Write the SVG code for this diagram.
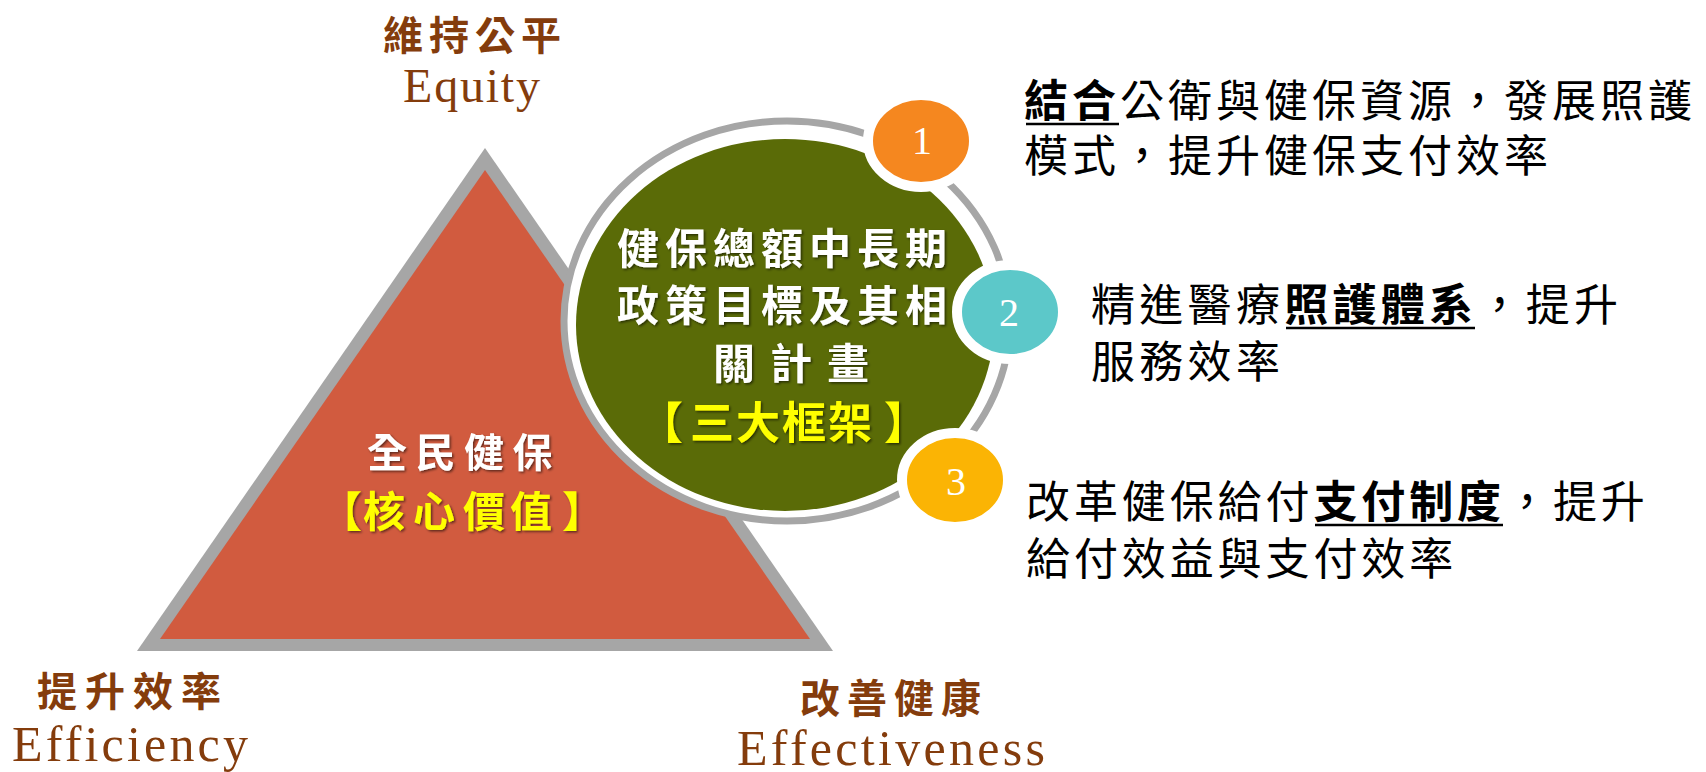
<svg xmlns="http://www.w3.org/2000/svg" width="1706" height="772" viewBox="0 0 1706 772">
<defs>
<style>
.cjk{font-family:"Noto Sans CJK TC","Noto Sans CJK SC",sans-serif;}
.lbl{fill:#843C0C;font-size:40px;font-weight:bold;}
.lat{font-family:"Liberation Serif",serif;fill:#843C0C;}
.wt{fill:#FFFFFF;font-weight:bold;}
.yl{fill:#FFFF00;font-weight:bold;}
.num{font-family:"Liberation Serif",serif;fill:#FFFFFF;font-size:40px;text-anchor:middle;}
.desc{fill:#000000;font-size:44px;}
.b{font-weight:bold;}
.ul{stroke:#000000;stroke-width:2.5;}
.small{stroke:#FFFFFF;stroke-width:10;}
</style>
<filter id="sh" x="-10%" y="-10%" width="120%" height="130%">
<feDropShadow dx="1.5" dy="1.5" stdDeviation="1" flood-color="#000000" flood-opacity="0.55"/>
</filter>
</defs>
<rect width="1706" height="772" fill="#FFFFFF"/>

<g id="triangle">
<polygon points="485,148 137,651 833,651" fill="#A6A6A6"/>
<polygon points="485,170 160,639 810,639" fill="#D15B3F"/>
<g filter="url(#sh)">
<text class="cjk wt" x="367" y="467" font-size="40" letter-spacing="8.5">全民健保</text>
<text class="cjk yl" x="320 363 413 463 510 562" y="527" font-size="42">【核心價值】</text>
</g>
</g>

<g id="framework">
<ellipse cx="787" cy="321" rx="223" ry="200" fill="#FFFFFF" stroke="#A6A6A6" stroke-width="7"/>
<ellipse cx="785" cy="325" rx="209" ry="186" fill="#5A6B07"/>
<g filter="url(#sh)">
<text class="cjk wt" x="617" y="264" font-size="42" letter-spacing="6">健保總額中長期</text>
<text class="cjk wt" x="617" y="321" font-size="42" letter-spacing="6">政策目標及其相</text>
<text class="cjk wt" x="713" y="379" font-size="42" letter-spacing="15">關計畫</text>
<text class="cjk yl" x="639 690 736 782 828 884" y="439" font-size="44">【三大框架】</text>
</g>
</g>

<g id="node1">
<ellipse class="small" cx="921" cy="141" rx="53" ry="46" fill="#F5871F"/>
<text class="num" x="922" y="154">1</text>
</g>
<g id="node2">
<ellipse class="small" cx="1010" cy="312" rx="53" ry="47" fill="#5CC8C9"/>
<text class="num" x="1009" y="326">2</text>
</g>
<g id="node3">
<ellipse class="small" cx="955" cy="480" rx="53" ry="47" fill="#FBB404"/>
<text class="num" x="956" y="495">3</text>
</g>

<g id="equity">
<text class="cjk lbl" x="383" y="50" letter-spacing="6">維持公平</text>
<text class="lat" x="403" y="102" font-size="48" textLength="137" lengthAdjust="spacing">Equity</text>
</g>
<g id="efficiency">
<text class="cjk lbl" x="37" y="706" letter-spacing="8">提升效率</text>
<text class="lat" x="12" y="761" font-size="50" textLength="236" lengthAdjust="spacing">Efficiency</text>
</g>
<g id="effectiveness">
<text class="cjk lbl" x="800" y="713" letter-spacing="7">改善健康</text>
<text class="lat" x="737" y="765" font-size="50" textLength="308" lengthAdjust="spacing">Effectiveness</text>
</g>

<g id="text1">
<text class="cjk desc" x="1024" y="117" letter-spacing="4"><tspan class="b">結合</tspan>公衛與健保資源，發展照護</text>
<text class="cjk desc" x="1024" y="172" letter-spacing="4">模式，提升健保支付效率</text>
<line class="ul" x1="1026" y1="124" x2="1119" y2="124"/>
</g>
<g id="text2">
<text class="cjk desc" x="1091" y="321" letter-spacing="4.3">精進醫療<tspan class="b">照護體系</tspan>，提升</text>
<text class="cjk desc" x="1091" y="378" letter-spacing="4.3">服務效率</text>
<line class="ul" x1="1286" y1="328" x2="1475" y2="328"/>
</g>
<g id="text3">
<text class="cjk desc" x="1026" y="518" letter-spacing="3.9">改革健保給付<tspan class="b">支付制度</tspan>，提升</text>
<text class="cjk desc" x="1026" y="575" letter-spacing="3.9">給付效益與支付效率</text>
<line class="ul" x1="1315" y1="525" x2="1503" y2="525"/>
</g>
</svg>
